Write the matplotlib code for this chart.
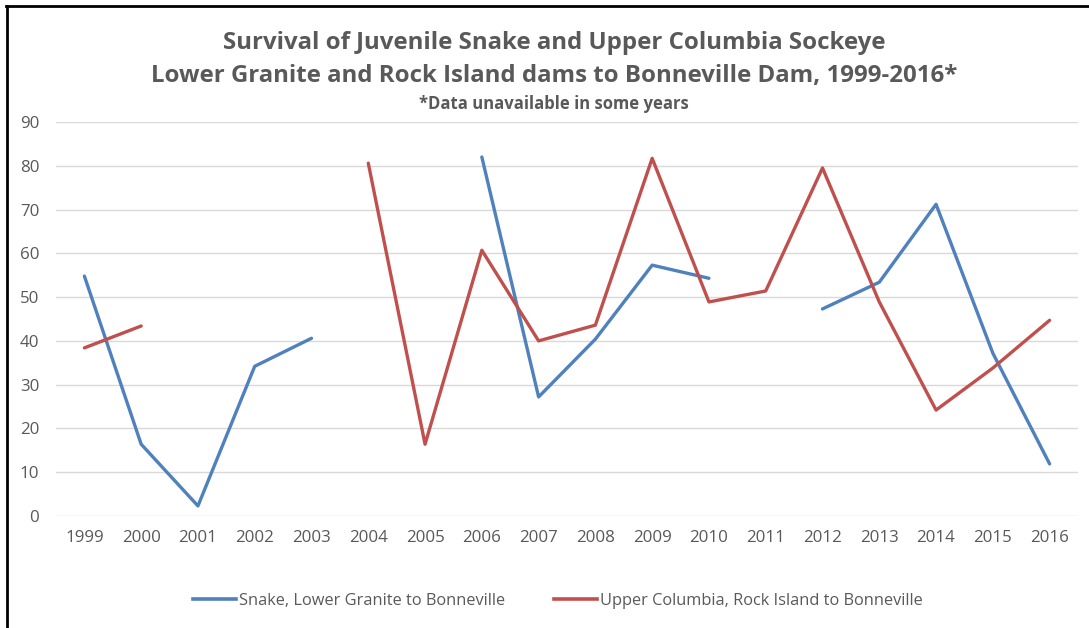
import numpy as np
import matplotlib
matplotlib.use("Agg")
import matplotlib.pyplot as plt
from matplotlib.lines import Line2D

years = [str(y) for y in range(1999, 2017)]
nan = np.nan
snake = [54.8, 16.4, 2.3, 34.2, 40.6, nan, nan, 82.0, 27.2, 40.4,
         57.3, 54.3, nan, 47.3, 53.4, 71.2, 37.2, 11.9]
upper_columbia = [38.4, 43.4, nan, nan, nan, 80.6, 16.4, 60.7, 40.0, 43.6,
                  81.7, 48.9, 51.4, 79.5, 48.9, 24.2, 33.8, 44.7]
y_ticks = list(range(0, 100, 10))

title_1 = "Survival of Juvenile Snake and Upper Columbia Sockeye"
title_2 = "Lower Granite and Rock Island dams to Bonneville Dam, 1999-2016*"
subtitle = "*Data unavailable in some years"
label_snake = "Snake, Lower Granite to Bonneville"
label_uc = "Upper Columbia, Rock Island to Bonneville"

BLUE = "#4F81BD"
RED = "#C0504D"
TEXT = "#595959"
GRID = "#D9D9D9"
FONT = "Open Sans"

W, H = 1089, 628
fig = plt.figure(figsize=(W / 100, H / 100), dpi=100)
fig.patch.set_facecolor("white")

ax = fig.add_axes([56 / W, 1 - 516 / H, (1078 - 56) / W, (516 - 122) / H])
x = np.arange(len(years))
ax.plot(x, snake, color=BLUE, lw=2.4, solid_capstyle="round", solid_joinstyle="round")
ax.plot(x, upper_columbia, color=RED, lw=2.4, solid_capstyle="round", solid_joinstyle="round")

ax.set_xlim(-0.5, len(years) - 0.5)
ax.set_ylim(0, 90)
ax.set_yticks(y_ticks)
ax.set_xticks(x)
ax.set_xticklabels(years)
for s in ax.spines.values():
    s.set_visible(False)
ax.grid(axis="y", color=GRID, lw=1.0)
ax.set_axisbelow(True)
ax.tick_params(length=0, colors=TEXT, labelsize=12.2)
ax.tick_params(axis="y", pad=12)
ax.tick_params(axis="x", pad=10)
for lab in ax.get_xticklabels() + ax.get_yticklabels():
    lab.set_fontfamily(FONT)
    lab.set_color(TEXT)

fig.text(554 / W, 1 - 43 / H, title_1, ha="center", va="center",
         fontsize=17.3, fontweight="bold", color=TEXT, family=FONT)
fig.text(554 / W, 1 - 76 / H, title_2, ha="center", va="center",
         fontsize=17.3, fontweight="bold", color=TEXT, family=FONT)
fig.text(554 / W, 1 - 104 / H, subtitle, ha="center", va="center",
         fontsize=12, fontweight="bold", color=TEXT, family=FONT)

handles = [Line2D([], [], color=BLUE, lw=2.6), Line2D([], [], color=RED, lw=2.6)]
fig.legend(handles, [label_snake, label_uc], loc="center",
           bbox_to_anchor=(558 / W, 1 - 601 / H), ncol=2, frameon=False,
           prop={"family": FONT, "size": 11.8}, labelcolor=TEXT,
           handlelength=2.6, handletextpad=0.2, columnspacing=3.0)

# frame edges on the left and top
fig.add_artist(Line2D([6.5 / W, 6.5 / W], [0, 1 - 5.5 / H], color="black", lw=2,
                      transform=fig.transFigure))
fig.add_artist(Line2D([5.5 / W, 1], [1 - 5.5 / H, 1 - 5.5 / H], color="black", lw=2,
                      transform=fig.transFigure))

fig.savefig("out.png", dpi=100, facecolor="white")
